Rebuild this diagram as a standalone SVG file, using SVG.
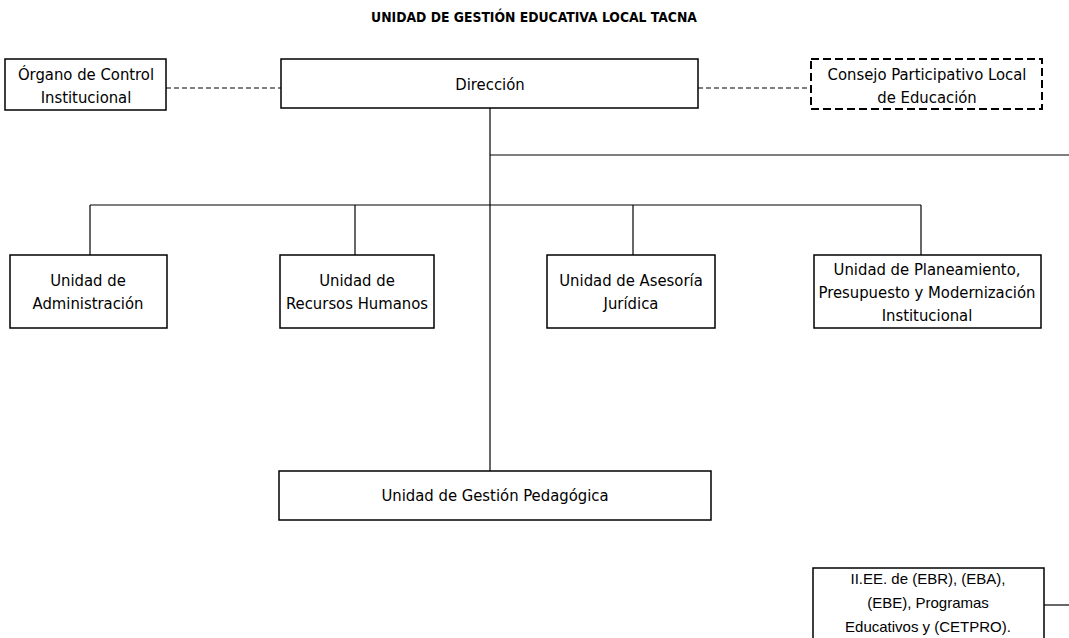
<svg xmlns="http://www.w3.org/2000/svg" width="1069" height="638" viewBox="0 0 1069 638">
<style>
.box{fill:#fff;stroke:#000;stroke-width:1.5}
.dbox{fill:#fff;stroke:#000;stroke-width:2;stroke-dasharray:8 4}
.t{font-family:"DejaVu Sans Condensed","Liberation Sans",sans-serif;font-size:16.5px;fill:#000;text-anchor:middle}
.a{font-family:"Liberation Sans",Arial,sans-serif;font-size:15px;fill:#000;text-anchor:middle}
.title{font-family:"DejaVu Sans Condensed","Liberation Sans",sans-serif;font-size:13.8px;font-weight:bold;fill:#000;text-anchor:middle}
.c{fill:none;stroke:#000;stroke-width:1.2}
.dc{fill:none;stroke:#000;stroke-width:1.2;stroke-dasharray:5 3}
</style>
<rect width="1069" height="638" fill="#fff"/>
<text class="title" x="534" y="22">UNIDAD DE GESTIÓN EDUCATIVA LOCAL TACNA</text>
<g id="connectors">
<line class="dc" x1="166" y1="88" x2="281" y2="88"/>
<line class="dc" x1="698" y1="88" x2="811" y2="88"/>
<line class="c" x1="490" y1="108" x2="490" y2="471"/>
<line class="c" x1="490" y1="155" x2="1069" y2="155"/>
<line class="c" x1="90" y1="205" x2="921" y2="205"/>
<line class="c" x1="90" y1="205" x2="90" y2="255"/>
<line class="c" x1="355" y1="205" x2="355" y2="255"/>
<line class="c" x1="633" y1="205" x2="633" y2="255"/>
<line class="c" x1="921" y1="205" x2="921" y2="255"/>
<line class="c" x1="1044" y1="605" x2="1069" y2="605"/>
</g>
<g id="organo">
<rect class="box" x="5" y="59" width="161" height="51"/>
<text class="t" x="86" y="80">Órgano de Control</text>
<text class="t" x="86" y="103">Institucional</text>
</g>
<g id="direccion">
<rect class="box" x="281" y="59" width="417" height="49"/>
<text class="t" x="490" y="90">Dirección</text>
</g>
<g id="consejo">
<rect class="dbox" x="811" y="59" width="231" height="50"/>
<text class="t" x="927" y="80">Consejo Participativo Local</text>
<text class="t" x="927" y="103">de Educación</text>
</g>
<g id="administracion">
<rect class="box" x="10" y="255" width="157" height="73"/>
<text class="t" x="88" y="286">Unidad de</text>
<text class="t" x="88" y="309">Administración</text>
</g>
<g id="rrhh">
<rect class="box" x="280" y="255" width="154" height="73"/>
<text class="t" x="357" y="286">Unidad de</text>
<text class="t" x="357" y="309">Recursos Humanos</text>
</g>
<g id="asesoria">
<rect class="box" x="547" y="255" width="168" height="73"/>
<text class="t" x="631" y="286">Unidad de Asesoría</text>
<text class="t" x="631" y="309">Jurídica</text>
</g>
<g id="planeamiento">
<rect class="box" x="814" y="255" width="227" height="73"/>
<text class="t" x="927" y="275">Unidad de Planeamiento,</text>
<text class="t" x="927" y="298">Presupuesto y Modernización</text>
<text class="t" x="927" y="321">Institucional</text>
</g>
<g id="gestion-pedagogica">
<rect class="box" x="279" y="471" width="432" height="49"/>
<text class="t" x="495" y="501">Unidad de Gestión Pedagógica</text>
</g>
<g id="iiee">
<rect class="box" x="813" y="568" width="231" height="75"/>
<text class="a" x="928" y="584">II.EE. de (EBR), (EBA),</text>
<text class="a" x="928" y="608">(EBE), Programas</text>
<text class="a" x="928" y="632">Educativos y (CETPRO).</text>
</g>
</svg>
